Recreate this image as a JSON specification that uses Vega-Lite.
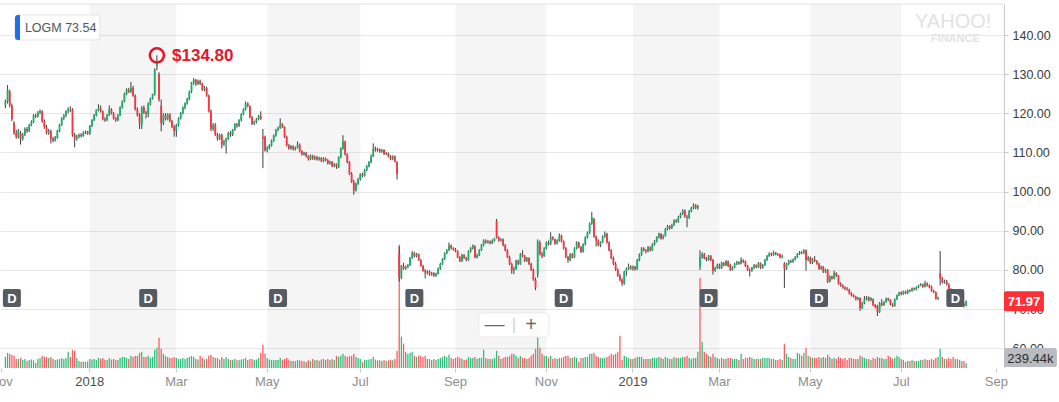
{
"$schema":"https://vega.github.io/schema/vega-lite/v6.json",
"width":1004,"height":364,
"padding":{"left":0,"top":4,"right":55,"bottom":34},
"autosize":{"type":"none"},
"background":"white",
"config":{"view":{"stroke":null},"font":"Liberation Sans"},
"datasets":{
"px":[
{"d":"2017-11-03","o":122,"h":123.5,"l":121.3,"c":123,"v":0.55},
{"d":"2017-11-06","o":123,"h":127.2,"l":122.5,"c":126,"v":0.75},
{"d":"2017-11-07","o":125.5,"h":126,"l":121.5,"c":122,"v":0.7},
{"d":"2017-11-08","o":122,"h":122.5,"l":118,"c":118.5,"v":0.65},
{"d":"2017-11-09","o":117.5,"h":118,"l":114.5,"c":115,"v":0.6},
{"d":"2017-11-10","o":115,"h":115.8,"l":113.5,"c":114,"v":0.45},
{"d":"2017-11-13","o":114,"h":116,"l":113.6,"c":115.5,"v":0.45},
{"d":"2017-11-14","o":115,"h":115.5,"l":112,"c":113.5,"v":0.5},
{"d":"2017-11-15","o":113.5,"h":115,"l":113,"c":114.5,"v":0.4},
{"d":"2017-11-16","o":114.5,"h":116.4,"l":114.2,"c":116,"v":0.45},
{"d":"2017-11-17","o":116,"h":116.5,"l":115,"c":115.5,"v":0.35},
{"d":"2017-11-20","o":115.5,"h":117.3,"l":115.2,"c":117,"v":0.4},
{"d":"2017-11-21","o":117,"h":118.2,"l":116.7,"c":117.8,"v":0.42},
{"d":"2017-11-22","o":117.8,"h":119.8,"l":117.5,"c":119.5,"v":0.38},
{"d":"2017-11-24","o":119.5,"h":119.9,"l":118.8,"c":119.2,"v":0.25},
{"d":"2017-11-27","o":119.2,"h":120.6,"l":118.9,"c":120.2,"v":0.45},
{"d":"2017-11-28","o":120.2,"h":121,"l":119.8,"c":120.6,"v":0.5},
{"d":"2017-11-29","o":120.5,"h":120.8,"l":117.6,"c":118,"v":0.6},
{"d":"2017-11-30","o":118,"h":118.4,"l":116,"c":116.5,"v":0.55},
{"d":"2017-12-01","o":116.5,"h":117,"l":114.6,"c":115,"v":0.55},
{"d":"2017-12-04","o":115,"h":116,"l":114.5,"c":115.5,"v":0.5},
{"d":"2017-12-05","o":115.5,"h":115.8,"l":112.3,"c":113.5,"v":0.55},
{"d":"2017-12-06","o":113.5,"h":114,"l":112.6,"c":113,"v":0.45},
{"d":"2017-12-07","o":113,"h":114.2,"l":112.8,"c":113.8,"v":0.4},
{"d":"2017-12-08","o":113.8,"h":115.8,"l":113.5,"c":115.5,"v":0.42},
{"d":"2017-12-11","o":115.5,"h":117.3,"l":115.2,"c":117,"v":0.45},
{"d":"2017-12-12","o":117,"h":119,"l":116.8,"c":118.7,"v":0.5},
{"d":"2017-12-13","o":118.7,"h":119.8,"l":118.3,"c":119.5,"v":0.45},
{"d":"2017-12-14","o":119.5,"h":120.8,"l":119,"c":120.5,"v":0.5},
{"d":"2017-12-15","o":120.5,"h":121.5,"l":120,"c":121,"v":0.8},
{"d":"2017-12-18","o":121,"h":121.8,"l":120.3,"c":120.8,"v":0.55},
{"d":"2017-12-19","o":121,"h":121.3,"l":114,"c":114.5,"v":0.9},
{"d":"2017-12-20","o":114.5,"h":115,"l":111.3,"c":113.5,"v":0.85},
{"d":"2017-12-21","o":113.5,"h":114.5,"l":113,"c":114,"v":0.5},
{"d":"2017-12-22","o":114,"h":114.8,"l":113.6,"c":114.5,"v":0.35},
{"d":"2017-12-26","o":114.5,"h":114.9,"l":113.8,"c":114.2,"v":0.3},
{"d":"2017-12-27","o":114.2,"h":115.4,"l":114,"c":115,"v":0.32},
{"d":"2017-12-28","o":115,"h":115.6,"l":114.7,"c":115.3,"v":0.3},
{"d":"2017-12-29","o":115.3,"h":115.5,"l":114.5,"c":114.8,"v":0.33},
{"d":"2018-01-02","o":114.8,"h":117,"l":114.5,"c":116.8,"v":0.45},
{"d":"2018-01-03","o":116.8,"h":118.5,"l":116.5,"c":118.3,"v":0.42},
{"d":"2018-01-04","o":118.3,"h":119.8,"l":118,"c":119.5,"v":0.45},
{"d":"2018-01-05","o":119.5,"h":121,"l":119.2,"c":120.8,"v":0.4},
{"d":"2018-01-08","o":120.8,"h":122.3,"l":120.5,"c":121.3,"v":0.5},
{"d":"2018-01-09","o":121.3,"h":122,"l":120.2,"c":120.5,"v":0.45},
{"d":"2018-01-10","o":120.5,"h":120.7,"l":118.2,"c":118.5,"v":0.5},
{"d":"2018-01-11","o":118.5,"h":119,"l":117.8,"c":118.2,"v":0.4},
{"d":"2018-01-12","o":118.2,"h":119.8,"l":118,"c":119.5,"v":0.38},
{"d":"2018-01-16","o":119.5,"h":122,"l":119.3,"c":121,"v":0.5},
{"d":"2018-01-17","o":121,"h":121.3,"l":119.7,"c":120,"v":0.42},
{"d":"2018-01-18","o":120,"h":120.3,"l":118.4,"c":118.7,"v":0.45},
{"d":"2018-01-19","o":118.7,"h":119,"l":117.8,"c":118.2,"v":0.38},
{"d":"2018-01-22","o":118.2,"h":119.8,"l":118,"c":119.5,"v":0.4},
{"d":"2018-01-23","o":119.5,"h":121.8,"l":119.3,"c":121.5,"v":0.5},
{"d":"2018-01-24","o":121.5,"h":123.3,"l":121.2,"c":123,"v":0.55},
{"d":"2018-01-25","o":123,"h":125.3,"l":122.8,"c":125,"v":0.55},
{"d":"2018-01-26","o":125,"h":126.4,"l":124.6,"c":126,"v":0.5},
{"d":"2018-01-29","o":126,"h":126.5,"l":125.2,"c":125.5,"v":0.45},
{"d":"2018-01-30","o":125.5,"h":128,"l":125.2,"c":126.5,"v":0.6},
{"d":"2018-01-31","o":126.5,"h":127,"l":124.2,"c":124.5,"v":0.55},
{"d":"2018-02-01","o":124.5,"h":124.8,"l":120.7,"c":121,"v":0.6},
{"d":"2018-02-02","o":121,"h":121.5,"l":119.2,"c":119.5,"v":0.6},
{"d":"2018-02-05","o":119.5,"h":120,"l":116,"c":117.5,"v":0.75},
{"d":"2018-02-06","o":117,"h":121.8,"l":116,"c":121.5,"v":0.8},
{"d":"2018-02-07","o":121.5,"h":122,"l":119.8,"c":120.2,"v":0.55},
{"d":"2018-02-08","o":120.2,"h":120.6,"l":118.7,"c":119.8,"v":0.55},
{"d":"2018-02-09","o":119.8,"h":122.8,"l":119,"c":122.5,"v":0.6},
{"d":"2018-02-12","o":122.5,"h":124,"l":122,"c":123.8,"v":0.5},
{"d":"2018-02-13","o":123.8,"h":125,"l":123.5,"c":124.8,"v":0.55},
{"d":"2018-02-14","o":124.8,"h":131.5,"l":124.5,"c":131,"v":0.9},
{"d":"2018-02-15","o":132,"h":134.8,"l":131,"c":133.2,"v":1.0},
{"d":"2018-02-16","o":130,"h":130.5,"l":123,"c":123.5,"v":1.5},
{"d":"2018-02-20","o":122,"h":123.5,"l":115.4,"c":117.5,"v":0.95},
{"d":"2018-02-21","o":117.5,"h":120,"l":117,"c":119.5,"v":0.7},
{"d":"2018-02-22","o":119.5,"h":120,"l":118.2,"c":118.5,"v":0.6},
{"d":"2018-02-23","o":118.5,"h":120,"l":118.2,"c":119.7,"v":0.55},
{"d":"2018-02-26","o":119.7,"h":120,"l":117.7,"c":118,"v":0.5},
{"d":"2018-02-27","o":118,"h":118.3,"l":116.2,"c":116.5,"v":0.5},
{"d":"2018-02-28","o":116.5,"h":117,"l":114,"c":115.5,"v":0.55},
{"d":"2018-03-01","o":115.5,"h":117.3,"l":114,"c":117,"v":0.5},
{"d":"2018-03-02","o":117,"h":119,"l":116.6,"c":118.7,"v":0.45},
{"d":"2018-03-05","o":118.7,"h":120.3,"l":118.4,"c":120,"v":0.45},
{"d":"2018-03-06","o":120,"h":121.8,"l":119.7,"c":121.5,"v":0.5},
{"d":"2018-03-07","o":121.5,"h":122.8,"l":121,"c":122.5,"v":0.45},
{"d":"2018-03-08","o":122.5,"h":124,"l":122.2,"c":123.6,"v":0.5},
{"d":"2018-03-09","o":123.6,"h":125.8,"l":123.3,"c":125.5,"v":0.55},
{"d":"2018-03-12","o":125.5,"h":128,"l":125.2,"c":127.8,"v":0.6},
{"d":"2018-03-13","o":127.8,"h":129,"l":127.3,"c":128.5,"v":0.55},
{"d":"2018-03-14","o":128.5,"h":128.8,"l":127,"c":127.5,"v":0.45},
{"d":"2018-03-15","o":127.5,"h":128.6,"l":127.2,"c":128.3,"v":0.42},
{"d":"2018-03-16","o":128.3,"h":128.6,"l":127.2,"c":127.5,"v":0.6},
{"d":"2018-03-19","o":127.5,"h":127.8,"l":125.7,"c":126,"v":0.5},
{"d":"2018-03-20","o":126,"h":127,"l":125.6,"c":126.5,"v":0.42},
{"d":"2018-03-21","o":126.5,"h":126.8,"l":124.2,"c":124.5,"v":0.45},
{"d":"2018-03-22","o":124.5,"h":124.8,"l":120.2,"c":120.5,"v":0.6},
{"d":"2018-03-23","o":120.5,"h":121,"l":115.4,"c":116,"v":0.65},
{"d":"2018-03-26","o":116,"h":117.5,"l":115.5,"c":117,"v":0.55},
{"d":"2018-03-27","o":117,"h":117.5,"l":114.2,"c":114.5,"v":0.5},
{"d":"2018-03-28","o":114.5,"h":115,"l":113,"c":113.5,"v":0.5},
{"d":"2018-03-29","o":113.5,"h":114.8,"l":113.2,"c":114.5,"v":0.42},
{"d":"2018-04-02","o":114.5,"h":114.8,"l":111,"c":112,"v":0.55},
{"d":"2018-04-03","o":112,"h":113.2,"l":111.6,"c":112.8,"v":0.45},
{"d":"2018-04-04","o":112.8,"h":113.8,"l":109.7,"c":113.5,"v":0.55},
{"d":"2018-04-05","o":113.5,"h":115.3,"l":113.2,"c":115,"v":0.45},
{"d":"2018-04-06","o":115,"h":115.5,"l":114,"c":114.5,"v":0.4},
{"d":"2018-04-09","o":114.5,"h":116,"l":114.2,"c":115.8,"v":0.4},
{"d":"2018-04-10","o":115.8,"h":117.5,"l":115.5,"c":117.2,"v":0.45},
{"d":"2018-04-11","o":117.2,"h":117.5,"l":116.3,"c":116.8,"v":0.38},
{"d":"2018-04-12","o":116.8,"h":118.5,"l":116.5,"c":118.2,"v":0.4},
{"d":"2018-04-13","o":118.2,"h":120,"l":117.9,"c":119.8,"v":0.42},
{"d":"2018-04-16","o":119.8,"h":121.3,"l":119.5,"c":121,"v":0.45},
{"d":"2018-04-17","o":121,"h":123,"l":120.7,"c":122.5,"v":0.5},
{"d":"2018-04-18","o":122.5,"h":122.8,"l":121.5,"c":121.8,"v":0.4},
{"d":"2018-04-19","o":121.8,"h":122,"l":118.7,"c":119,"v":0.45},
{"d":"2018-04-20","o":119,"h":119.3,"l":117,"c":117.3,"v":0.45},
{"d":"2018-04-23","o":117.3,"h":118.1,"l":117,"c":117.8,"v":0.4},
{"d":"2018-04-24","o":117.8,"h":118.8,"l":117.4,"c":118.5,"v":0.42},
{"d":"2018-04-25","o":118.5,"h":119.6,"l":118.2,"c":119.3,"v":0.5},
{"d":"2018-04-26","o":119.3,"h":120.5,"l":118.3,"c":118.6,"v":0.75},
{"d":"2018-04-27","o":114,"h":116,"l":106,"c":113.5,"v":1.15},
{"d":"2018-04-30","o":114,"h":114.3,"l":110.2,"c":110.5,"v":0.7},
{"d":"2018-05-01","o":110.5,"h":111.6,"l":110,"c":111.2,"v":0.5},
{"d":"2018-05-02","o":111.2,"h":112.1,"l":110.8,"c":111.8,"v":0.42},
{"d":"2018-05-03","o":111.8,"h":113.3,"l":111.5,"c":113,"v":0.4},
{"d":"2018-05-04","o":113,"h":114.6,"l":112.7,"c":114.3,"v":0.38},
{"d":"2018-05-07","o":114.3,"h":116,"l":114,"c":115.8,"v":0.4},
{"d":"2018-05-08","o":115.8,"h":116.6,"l":115.4,"c":116.3,"v":0.4},
{"d":"2018-05-09","o":116.3,"h":118.7,"l":116,"c":117.2,"v":0.5},
{"d":"2018-05-10","o":117.2,"h":117.5,"l":116.2,"c":116.5,"v":0.4},
{"d":"2018-05-11","o":116.5,"h":116.7,"l":113.7,"c":114,"v":0.45},
{"d":"2018-05-14","o":114,"h":114.3,"l":111.5,"c":111.8,"v":0.5},
{"d":"2018-05-15","o":111.8,"h":112.2,"l":110.7,"c":111,"v":0.42},
{"d":"2018-05-16","o":111,"h":111.9,"l":110.7,"c":111.6,"v":0.35},
{"d":"2018-05-17","o":111.6,"h":111.8,"l":110.5,"c":110.8,"v":0.35},
{"d":"2018-05-18","o":110.8,"h":111.5,"l":110.5,"c":111.2,"v":0.33},
{"d":"2018-05-21","o":111.2,"h":112.8,"l":111,"c":112,"v":0.4},
{"d":"2018-05-22","o":112,"h":112.3,"l":110,"c":110.3,"v":0.38},
{"d":"2018-05-23","o":110.3,"h":110.6,"l":109.2,"c":109.5,"v":0.35},
{"d":"2018-05-24","o":109.5,"h":110.2,"l":109.2,"c":109.9,"v":0.33},
{"d":"2018-05-25","o":109.9,"h":110.1,"l":108.7,"c":109,"v":0.3},
{"d":"2018-05-29","o":109,"h":109.3,"l":107.9,"c":108.3,"v":0.38},
{"d":"2018-05-30","o":108.3,"h":109.5,"l":108,"c":109.2,"v":0.35},
{"d":"2018-05-31","o":109.2,"h":109.4,"l":108.1,"c":108.4,"v":0.45},
{"d":"2018-06-01","o":108.4,"h":109.2,"l":108,"c":108.8,"v":0.38},
{"d":"2018-06-04","o":108.8,"h":109.1,"l":107.9,"c":108.2,"v":0.4},
{"d":"2018-06-05","o":108.2,"h":108.9,"l":107.9,"c":108.6,"v":0.36},
{"d":"2018-06-06","o":108.6,"h":108.8,"l":107.5,"c":107.8,"v":0.42},
{"d":"2018-06-07","o":107.8,"h":108.8,"l":107.5,"c":108.5,"v":0.45},
{"d":"2018-06-08","o":108.5,"h":108.7,"l":107.7,"c":108,"v":0.4},
{"d":"2018-06-11","o":108,"h":108.3,"l":106.9,"c":107.2,"v":0.45},
{"d":"2018-06-12","o":107.2,"h":107.9,"l":106.9,"c":107.6,"v":0.4},
{"d":"2018-06-13","o":107.6,"h":107.8,"l":106.2,"c":106.5,"v":0.45},
{"d":"2018-06-14","o":106.5,"h":107.3,"l":106.2,"c":107,"v":0.4},
{"d":"2018-06-15","o":107,"h":107.2,"l":105.8,"c":106.3,"v":0.6},
{"d":"2018-06-18","o":106.3,"h":109,"l":106,"c":108.8,"v":0.55},
{"d":"2018-06-19","o":108.8,"h":111.3,"l":108.5,"c":111,"v":0.6},
{"d":"2018-06-20","o":111,"h":114.4,"l":110.7,"c":112.8,"v":0.7},
{"d":"2018-06-21","o":112.8,"h":113,"l":109.2,"c":109.5,"v":0.6},
{"d":"2018-06-22","o":109.5,"h":109.8,"l":107.2,"c":107.5,"v":0.55},
{"d":"2018-06-25","o":107.5,"h":107.8,"l":104.2,"c":104.5,"v":0.6},
{"d":"2018-06-26","o":104.5,"h":105,"l":102.2,"c":102.5,"v":0.6},
{"d":"2018-06-27","o":102.5,"h":103,"l":99.2,"c":100.3,"v":0.7},
{"d":"2018-06-28","o":100.3,"h":102.3,"l":100,"c":102,"v":0.55},
{"d":"2018-06-29","o":102,"h":103.5,"l":101.7,"c":103.2,"v":0.5},
{"d":"2018-07-02","o":103.2,"h":104.7,"l":102.8,"c":104.4,"v":0.45},
{"d":"2018-07-03","o":104.4,"h":104.8,"l":103.6,"c":104,"v":0.3},
{"d":"2018-07-05","o":104,"h":105.8,"l":103.8,"c":105.5,"v":0.4},
{"d":"2018-07-06","o":105.5,"h":106.8,"l":105.2,"c":106.5,"v":0.4},
{"d":"2018-07-09","o":106.5,"h":107.8,"l":106.2,"c":107.5,"v":0.42},
{"d":"2018-07-10","o":107.5,"h":109.5,"l":107.2,"c":109,"v":0.45},
{"d":"2018-07-11","o":109,"h":112.3,"l":108.8,"c":111,"v":0.55},
{"d":"2018-07-12","o":111,"h":111.5,"l":110.2,"c":110.5,"v":0.42},
{"d":"2018-07-13","o":110.5,"h":111.2,"l":110.2,"c":110.8,"v":0.38},
{"d":"2018-07-16","o":110.8,"h":111,"l":109.9,"c":110.2,"v":0.38},
{"d":"2018-07-17","o":110.2,"h":110.9,"l":109.9,"c":110.6,"v":0.35},
{"d":"2018-07-18","o":110.6,"h":110.8,"l":109.3,"c":109.6,"v":0.4},
{"d":"2018-07-19","o":109.6,"h":110.1,"l":109.3,"c":109.8,"v":0.35},
{"d":"2018-07-20","o":109.8,"h":110,"l":108.7,"c":109,"v":0.38},
{"d":"2018-07-23","o":109,"h":109.3,"l":108,"c":108.3,"v":0.4},
{"d":"2018-07-24","o":108.3,"h":109.3,"l":108,"c":109,"v":0.38},
{"d":"2018-07-25","o":109,"h":109.2,"l":107.4,"c":107.7,"v":0.45},
{"d":"2018-07-26","o":107.5,"h":107.8,"l":103.1,"c":104.5,"v":0.85},
{"d":"2018-07-27","o":84,"h":86,"l":77,"c":78,"v":6.1},
{"d":"2018-07-30","o":78,"h":81.3,"l":77.6,"c":81,"v":1.55},
{"d":"2018-07-31","o":81,"h":81.8,"l":80,"c":80.3,"v":1.2},
{"d":"2018-08-01","o":80.3,"h":81.1,"l":80,"c":80.8,"v":0.8},
{"d":"2018-08-02","o":80.8,"h":81.5,"l":80.4,"c":81.2,"v":0.7},
{"d":"2018-08-03","o":81.2,"h":83.3,"l":81,"c":83,"v":0.75},
{"d":"2018-08-06","o":83,"h":84.8,"l":82.8,"c":84.3,"v":0.8},
{"d":"2018-08-07","o":84.3,"h":84.6,"l":83.2,"c":83.5,"v":0.6},
{"d":"2018-08-08","o":83.5,"h":84.3,"l":83.2,"c":84,"v":0.55},
{"d":"2018-08-09","o":84,"h":84.2,"l":82.3,"c":82.5,"v":0.6},
{"d":"2018-08-10","o":82.5,"h":82.8,"l":80.8,"c":81,"v":0.6},
{"d":"2018-08-13","o":81,"h":81.3,"l":79.5,"c":79.8,"v":0.55},
{"d":"2018-08-14","o":79.8,"h":80.2,"l":77.8,"c":79.3,"v":0.6},
{"d":"2018-08-15","o":79.3,"h":79.9,"l":78.8,"c":79.6,"v":0.45},
{"d":"2018-08-16","o":79.6,"h":79.9,"l":78.5,"c":78.8,"v":0.45},
{"d":"2018-08-17","o":78.8,"h":79.5,"l":78.5,"c":79.2,"v":0.4},
{"d":"2018-08-20","o":79.2,"h":79.4,"l":78.2,"c":78.5,"v":0.45},
{"d":"2018-08-21","o":78.5,"h":79.3,"l":78.2,"c":79,"v":0.4},
{"d":"2018-08-22","o":79,"h":80.6,"l":78.8,"c":80.3,"v":0.45},
{"d":"2018-08-23","o":80.3,"h":81.8,"l":80,"c":81.5,"v":0.5},
{"d":"2018-08-24","o":81.5,"h":83,"l":81.3,"c":82.8,"v":0.55},
{"d":"2018-08-27","o":82.8,"h":84.5,"l":82.5,"c":84.2,"v":0.6},
{"d":"2018-08-28","o":84.2,"h":85.3,"l":84,"c":85,"v":0.55},
{"d":"2018-08-29","o":85,"h":87,"l":84.8,"c":86.2,"v":0.65},
{"d":"2018-08-30","o":86.2,"h":86.5,"l":85.2,"c":85.5,"v":0.5},
{"d":"2018-08-31","o":85.5,"h":85.8,"l":84.9,"c":85.2,"v":0.45},
{"d":"2018-09-04","o":85.2,"h":85.6,"l":84.5,"c":84.8,"v":0.5},
{"d":"2018-09-05","o":84.8,"h":85,"l":83,"c":83.2,"v":0.55},
{"d":"2018-09-06","o":83.2,"h":83.5,"l":82,"c":82.3,"v":0.5},
{"d":"2018-09-07","o":82.3,"h":84.1,"l":82,"c":83.8,"v":0.45},
{"d":"2018-09-10","o":83.8,"h":84,"l":82.8,"c":83,"v":0.4},
{"d":"2018-09-11","o":83,"h":83.3,"l":82.2,"c":82.5,"v":0.42},
{"d":"2018-09-12","o":82.5,"h":85,"l":82.3,"c":84.7,"v":0.55},
{"d":"2018-09-13","o":84.7,"h":85.8,"l":84.4,"c":85.5,"v":0.5},
{"d":"2018-09-14","o":85.5,"h":86.5,"l":85.2,"c":86.2,"v":0.5},
{"d":"2018-09-17","o":86,"h":86.3,"l":83,"c":83.2,"v":0.55},
{"d":"2018-09-18","o":83.2,"h":84.1,"l":82.9,"c":83.8,"v":0.45},
{"d":"2018-09-19","o":83.8,"h":85.3,"l":83.5,"c":85,"v":0.5},
{"d":"2018-09-20","o":85,"h":86.6,"l":84.8,"c":86.3,"v":0.5},
{"d":"2018-09-21","o":86.3,"h":87.8,"l":86,"c":87.5,"v":0.9},
{"d":"2018-09-24","o":87.5,"h":87.8,"l":86.7,"c":87,"v":0.5},
{"d":"2018-09-25","o":87,"h":87.6,"l":86.7,"c":87.3,"v":0.45},
{"d":"2018-09-26","o":87.3,"h":87.5,"l":86.5,"c":86.8,"v":0.45},
{"d":"2018-09-27","o":86.8,"h":87.8,"l":86.6,"c":87.5,"v":0.45},
{"d":"2018-09-28","o":87.5,"h":88.2,"l":87.2,"c":88,"v":0.5},
{"d":"2018-10-01","o":92.5,"h":93,"l":88,"c":88.3,"v":0.85},
{"d":"2018-10-02","o":88.3,"h":88.6,"l":87.2,"c":87.5,"v":0.6},
{"d":"2018-10-03","o":87.5,"h":88.1,"l":87.2,"c":87.8,"v":0.45},
{"d":"2018-10-04","o":87.8,"h":88,"l":86,"c":86.3,"v":0.5},
{"d":"2018-10-05","o":86.3,"h":86.6,"l":84.7,"c":85,"v":0.55},
{"d":"2018-10-08","o":85,"h":85.3,"l":83,"c":83.3,"v":0.55},
{"d":"2018-10-09","o":83.3,"h":83.6,"l":81.2,"c":81.5,"v":0.6},
{"d":"2018-10-10","o":81.5,"h":81.8,"l":79,"c":79.8,"v":0.7},
{"d":"2018-10-11","o":79.8,"h":80.8,"l":78.9,"c":80.3,"v":0.7},
{"d":"2018-10-12","o":80.3,"h":82.6,"l":80,"c":82.3,"v":0.6},
{"d":"2018-10-15","o":82.3,"h":82.6,"l":81.2,"c":81.5,"v":0.5},
{"d":"2018-10-16","o":81.5,"h":84.3,"l":81.3,"c":84,"v":0.6},
{"d":"2018-10-17","o":84,"h":85,"l":83.2,"c":83.5,"v":0.5},
{"d":"2018-10-18","o":83.5,"h":83.8,"l":82,"c":82.3,"v":0.5},
{"d":"2018-10-19","o":82.3,"h":83.3,"l":82,"c":83,"v":0.45},
{"d":"2018-10-22","o":83,"h":83.2,"l":81.2,"c":81.5,"v":0.5},
{"d":"2018-10-23","o":81.5,"h":81.8,"l":79.7,"c":80,"v":0.6},
{"d":"2018-10-24","o":80,"h":80.3,"l":77.2,"c":77.5,"v":0.7},
{"d":"2018-10-25","o":77.5,"h":78,"l":74.8,"c":75.5,"v":0.95},
{"d":"2018-10-26","o":78.8,"h":87.8,"l":78,"c":87.3,"v":1.7},
{"d":"2018-10-29","o":87,"h":87.5,"l":83.7,"c":84,"v":1.0},
{"d":"2018-10-30","o":84,"h":84.6,"l":83,"c":83.5,"v":0.7},
{"d":"2018-10-31","o":83.5,"h":85.8,"l":83.3,"c":85.5,"v":0.6},
{"d":"2018-11-01","o":85.5,"h":87.3,"l":85.2,"c":87,"v":0.6},
{"d":"2018-11-02","o":87,"h":87.5,"l":86.2,"c":86.5,"v":0.5},
{"d":"2018-11-05","o":86.5,"h":89.6,"l":86.3,"c":88.3,"v":0.6},
{"d":"2018-11-06","o":88.3,"h":88.6,"l":87.5,"c":87.8,"v":0.45},
{"d":"2018-11-07","o":87.8,"h":88,"l":86.4,"c":86.7,"v":0.5},
{"d":"2018-11-08","o":86.7,"h":87.8,"l":86.5,"c":87.5,"v":0.45},
{"d":"2018-11-09","o":87.5,"h":89.3,"l":87.2,"c":88.8,"v":0.5},
{"d":"2018-11-12","o":88.8,"h":89,"l":87,"c":87.3,"v":0.5},
{"d":"2018-11-13","o":87.3,"h":87.5,"l":85.2,"c":85.5,"v":0.55},
{"d":"2018-11-14","o":85.5,"h":85.8,"l":83,"c":83.3,"v":0.6},
{"d":"2018-11-15","o":83.3,"h":83.6,"l":81.8,"c":82.5,"v":0.6},
{"d":"2018-11-16","o":82.5,"h":84.3,"l":82.2,"c":84,"v":0.5},
{"d":"2018-11-19","o":84,"h":84.3,"l":82.9,"c":83.2,"v":0.5},
{"d":"2018-11-20","o":83.2,"h":85.8,"l":83,"c":85.5,"v":0.55},
{"d":"2018-11-21","o":85.5,"h":87.3,"l":85.2,"c":87,"v":0.5},
{"d":"2018-11-23","o":87,"h":87.2,"l":85.5,"c":85.8,"v":0.3},
{"d":"2018-11-26","o":85.8,"h":86.1,"l":84.3,"c":84.6,"v":0.5},
{"d":"2018-11-27","o":84.6,"h":86.8,"l":84.4,"c":86.5,"v":0.5},
{"d":"2018-11-28","o":86.5,"h":88.6,"l":86.2,"c":88.3,"v":0.55},
{"d":"2018-11-29","o":88.3,"h":89.8,"l":88,"c":89.5,"v":0.55},
{"d":"2018-11-30","o":89.5,"h":92.1,"l":89.2,"c":91.8,"v":0.7},
{"d":"2018-12-03","o":91.8,"h":94.8,"l":91.5,"c":93.5,"v":0.7},
{"d":"2018-12-04","o":93,"h":93.3,"l":88.2,"c":88.5,"v":0.75},
{"d":"2018-12-06","o":88.5,"h":88.8,"l":86,"c":87.5,"v":0.6},
{"d":"2018-12-07","o":87.5,"h":87.8,"l":86,"c":86.3,"v":0.55},
{"d":"2018-12-10","o":86.3,"h":87.3,"l":85.8,"c":87,"v":0.5},
{"d":"2018-12-11","o":87,"h":88.8,"l":86.8,"c":88.5,"v":0.5},
{"d":"2018-12-12","o":88.5,"h":89.8,"l":88.2,"c":89.2,"v":0.5},
{"d":"2018-12-13","o":89.2,"h":89.5,"l":86.7,"c":87,"v":0.55},
{"d":"2018-12-14","o":87,"h":87.3,"l":84.7,"c":85,"v":0.6},
{"d":"2018-12-17","o":85,"h":85.3,"l":82.7,"c":83,"v":0.7},
{"d":"2018-12-18","o":83,"h":83.4,"l":81.2,"c":81.5,"v":0.65},
{"d":"2018-12-19","o":81.5,"h":82,"l":79.7,"c":80,"v":0.7},
{"d":"2018-12-20","o":80,"h":80.4,"l":78.2,"c":78.5,"v":0.8},
{"d":"2018-12-21","o":78.5,"h":79,"l":77,"c":77.5,"v":1.6},
{"d":"2018-12-24","o":77.5,"h":77.8,"l":75.9,"c":76.5,"v":0.4},
{"d":"2018-12-26","o":76.5,"h":79.8,"l":76.2,"c":79.5,"v":0.6},
{"d":"2018-12-27","o":79.5,"h":80.6,"l":78.5,"c":80.3,"v":0.55},
{"d":"2018-12-28","o":80.3,"h":81.6,"l":80,"c":80.8,"v":0.5},
{"d":"2018-12-31","o":80.8,"h":81.2,"l":80,"c":80.3,"v":0.45},
{"d":"2019-01-02","o":80.3,"h":81.1,"l":79.8,"c":80.8,"v":0.45},
{"d":"2019-01-03","o":80.8,"h":81,"l":79.8,"c":80.2,"v":0.5},
{"d":"2019-01-04","o":80.2,"h":82.8,"l":80,"c":82.5,"v":0.55},
{"d":"2019-01-07","o":82.5,"h":84.2,"l":82.2,"c":83.9,"v":0.55},
{"d":"2019-01-08","o":83.9,"h":85.8,"l":83.6,"c":85.5,"v":0.55},
{"d":"2019-01-09","o":85.5,"h":85.8,"l":84.7,"c":85,"v":0.45},
{"d":"2019-01-10","o":85,"h":85.3,"l":84.2,"c":84.7,"v":0.45},
{"d":"2019-01-11","o":84.7,"h":86.1,"l":84.5,"c":85.8,"v":0.45},
{"d":"2019-01-14","o":85.8,"h":86,"l":84.7,"c":85,"v":0.45},
{"d":"2019-01-15","o":85,"h":86.8,"l":84.8,"c":86.5,"v":0.5},
{"d":"2019-01-16","o":86.5,"h":87.6,"l":86.2,"c":87.3,"v":0.5},
{"d":"2019-01-17","o":87.3,"h":88.6,"l":87,"c":88.3,"v":0.5},
{"d":"2019-01-18","o":88.3,"h":89.5,"l":88,"c":89.2,"v":0.55},
{"d":"2019-01-22","o":89.2,"h":89.4,"l":87.7,"c":88,"v":0.5},
{"d":"2019-01-23","o":88,"h":89,"l":87.8,"c":88.7,"v":0.45},
{"d":"2019-01-24","o":88.7,"h":90.7,"l":88.5,"c":90.4,"v":0.55},
{"d":"2019-01-25","o":90.4,"h":91.5,"l":90.1,"c":91.2,"v":0.5},
{"d":"2019-01-28","o":91.2,"h":91.4,"l":90.3,"c":90.6,"v":0.45},
{"d":"2019-01-29","o":90.6,"h":91.8,"l":90.4,"c":91.5,"v":0.45},
{"d":"2019-01-30","o":91.5,"h":92.9,"l":91.2,"c":92.6,"v":0.55},
{"d":"2019-01-31","o":92.6,"h":93,"l":92,"c":92.3,"v":0.5},
{"d":"2019-02-01","o":92.3,"h":93.8,"l":92,"c":93.5,"v":0.5},
{"d":"2019-02-04","o":93.5,"h":94.6,"l":93.2,"c":94.3,"v":0.5},
{"d":"2019-02-05","o":94.3,"h":95.5,"l":94,"c":95.2,"v":0.55},
{"d":"2019-02-06","o":95.2,"h":95.4,"l":93.3,"c":93.6,"v":0.55},
{"d":"2019-02-07","o":93.6,"h":94,"l":90.9,"c":93.3,"v":0.6},
{"d":"2019-02-08","o":93.3,"h":95.3,"l":93,"c":95,"v":0.5},
{"d":"2019-02-11","o":95,"h":96.1,"l":94.7,"c":95.8,"v":0.45},
{"d":"2019-02-12","o":95.8,"h":97,"l":95.5,"c":96.5,"v":0.5},
{"d":"2019-02-13","o":96.5,"h":96.8,"l":95.5,"c":95.8,"v":0.5},
{"d":"2019-02-14","o":95.8,"h":96.6,"l":95.4,"c":96.2,"v":0.8},
{"d":"2019-02-15","o":80.8,"h":85,"l":80,"c":83.3,"v":4.45},
{"d":"2019-02-19","o":83.3,"h":84.5,"l":82.8,"c":84,"v":1.3},
{"d":"2019-02-20","o":84,"h":84.3,"l":82.7,"c":83,"v":0.8},
{"d":"2019-02-21","o":83,"h":83.3,"l":82.2,"c":82.5,"v":0.7},
{"d":"2019-02-22","o":82.5,"h":83.8,"l":82.3,"c":83.5,"v":0.6},
{"d":"2019-02-25","o":83.5,"h":83.8,"l":82.2,"c":82.5,"v":0.55},
{"d":"2019-02-26","o":82.5,"h":82.8,"l":78.8,"c":79.8,"v":0.7},
{"d":"2019-02-27","o":79.8,"h":80.8,"l":79.5,"c":80.5,"v":0.55},
{"d":"2019-02-28","o":80.5,"h":81.6,"l":80.2,"c":81.3,"v":0.5},
{"d":"2019-03-01","o":81.3,"h":81.6,"l":80.2,"c":80.5,"v":0.45},
{"d":"2019-03-04","o":80.5,"h":82.1,"l":80.2,"c":81.8,"v":0.5},
{"d":"2019-03-05","o":81.8,"h":82,"l":80.9,"c":81.2,"v":0.45},
{"d":"2019-03-06","o":81.2,"h":82.5,"l":81,"c":82.2,"v":0.45},
{"d":"2019-03-07","o":82.2,"h":82.4,"l":80.7,"c":81,"v":0.5},
{"d":"2019-03-08","o":81.3,"h":81.5,"l":79.7,"c":80,"v":0.5},
{"d":"2019-03-11","o":80,"h":80.9,"l":79.8,"c":80.6,"v":0.45},
{"d":"2019-03-12","o":80.6,"h":81.8,"l":80.4,"c":81.5,"v":0.45},
{"d":"2019-03-13","o":81.5,"h":82.3,"l":81.2,"c":82,"v":0.45},
{"d":"2019-03-14","o":82,"h":82.2,"l":81.3,"c":81.6,"v":0.4},
{"d":"2019-03-15","o":81.6,"h":83.2,"l":81.4,"c":82.5,"v":0.7},
{"d":"2019-03-18","o":82.5,"h":82.7,"l":81.7,"c":82,"v":0.45},
{"d":"2019-03-19","o":82.2,"h":82.4,"l":80.7,"c":81,"v":0.5},
{"d":"2019-03-20","o":81,"h":81.3,"l":79.7,"c":80,"v":0.5},
{"d":"2019-03-21","o":80,"h":80.4,"l":78.3,"c":79.8,"v":0.55},
{"d":"2019-03-22","o":79.8,"h":80.8,"l":79.5,"c":80.5,"v":0.5},
{"d":"2019-03-25","o":80.5,"h":81.5,"l":80.2,"c":81.2,"v":0.45},
{"d":"2019-03-26","o":81.2,"h":81.4,"l":80.4,"c":80.7,"v":0.45},
{"d":"2019-03-27","o":80.7,"h":82,"l":80.5,"c":81.7,"v":0.45},
{"d":"2019-03-28","o":81.7,"h":81.9,"l":80.2,"c":80.5,"v":0.45},
{"d":"2019-03-29","o":80.5,"h":81.5,"l":80.3,"c":81.2,"v":0.5},
{"d":"2019-04-01","o":81.2,"h":82.8,"l":81,"c":82.5,"v":0.5},
{"d":"2019-04-02","o":82.5,"h":83.8,"l":82.3,"c":83.5,"v":0.5},
{"d":"2019-04-03","o":83.5,"h":84.5,"l":83.3,"c":84.2,"v":0.5},
{"d":"2019-04-04","o":84.2,"h":84.4,"l":83.5,"c":83.8,"v":0.45},
{"d":"2019-04-05","o":83.8,"h":84.9,"l":83.6,"c":84.4,"v":0.45},
{"d":"2019-04-08","o":84.4,"h":84.6,"l":83.7,"c":84,"v":0.4},
{"d":"2019-04-09","o":84,"h":84.3,"l":83.5,"c":83.8,"v":0.4},
{"d":"2019-04-10","o":84,"h":84.2,"l":82.9,"c":83.2,"v":0.45},
{"d":"2019-04-11","o":83.2,"h":83.9,"l":83,"c":83.6,"v":0.4},
{"d":"2019-04-12","o":81.6,"h":82,"l":75.4,"c":80.3,"v":1.2},
{"d":"2019-04-15","o":80.3,"h":81.8,"l":80,"c":81.5,"v":0.7},
{"d":"2019-04-16","o":81.5,"h":82.6,"l":81.2,"c":82.3,"v":0.55},
{"d":"2019-04-17","o":82.3,"h":82.6,"l":81.7,"c":82,"v":0.5},
{"d":"2019-04-18","o":82,"h":82.9,"l":81.8,"c":82.6,"v":0.45},
{"d":"2019-04-22","o":82.6,"h":83.5,"l":82.4,"c":83.2,"v":0.45},
{"d":"2019-04-23","o":83.2,"h":84.3,"l":83,"c":84,"v":0.75},
{"d":"2019-04-24","o":84,"h":84.8,"l":83.8,"c":84.5,"v":0.7},
{"d":"2019-04-25","o":84.5,"h":84.8,"l":84,"c":84.3,"v":0.6},
{"d":"2019-04-26","o":84.3,"h":85.3,"l":84,"c":85,"v":0.75},
{"d":"2019-04-29","o":85,"h":85.2,"l":79.8,"c":82.5,"v":1.0},
{"d":"2019-04-30","o":82.5,"h":83.5,"l":82.2,"c":83.2,"v":0.6},
{"d":"2019-05-01","o":83.2,"h":83.4,"l":81.5,"c":81.8,"v":0.55},
{"d":"2019-05-02","o":81.8,"h":83,"l":81.5,"c":82.7,"v":0.5},
{"d":"2019-05-03","o":82.7,"h":83.5,"l":82,"c":82.3,"v":0.5},
{"d":"2019-05-06","o":82.3,"h":82.5,"l":81.3,"c":81.6,"v":0.5},
{"d":"2019-05-07","o":81.6,"h":81.8,"l":80,"c":80.3,"v":0.55},
{"d":"2019-05-08","o":80.3,"h":81.1,"l":80,"c":80.8,"v":0.5},
{"d":"2019-05-09","o":80.8,"h":81,"l":79.2,"c":79.5,"v":0.55},
{"d":"2019-05-10","o":79.5,"h":80.3,"l":79.2,"c":80,"v":0.5},
{"d":"2019-05-13","o":80,"h":80.2,"l":76.6,"c":77,"v":0.65},
{"d":"2019-05-14","o":77,"h":78.6,"l":76.8,"c":78.3,"v":0.55},
{"d":"2019-05-15","o":78.3,"h":78.5,"l":77.5,"c":77.8,"v":0.45},
{"d":"2019-05-16","o":77.8,"h":79.8,"l":77.6,"c":79.2,"v":0.5},
{"d":"2019-05-17","o":79.2,"h":79.4,"l":78.2,"c":78.5,"v":0.45},
{"d":"2019-05-20","o":78.5,"h":78.7,"l":76.2,"c":76.5,"v":0.55},
{"d":"2019-05-21","o":76.5,"h":76.8,"l":75.7,"c":76,"v":0.5},
{"d":"2019-05-22","o":76,"h":76.3,"l":75.2,"c":75.5,"v":0.45},
{"d":"2019-05-23","o":75.5,"h":75.8,"l":74.8,"c":75.2,"v":0.5},
{"d":"2019-05-24","o":75.2,"h":75.6,"l":74.7,"c":75,"v":0.4},
{"d":"2019-05-28","o":75,"h":75.2,"l":73.7,"c":74,"v":0.5},
{"d":"2019-05-29","o":74,"h":74.3,"l":73.2,"c":73.5,"v":0.5},
{"d":"2019-05-30","o":73.5,"h":73.8,"l":72.9,"c":73.2,"v":0.45},
{"d":"2019-05-31","o":73.2,"h":73.4,"l":72.2,"c":72.5,"v":0.45},
{"d":"2019-06-03","o":72.5,"h":73.1,"l":72.2,"c":72.8,"v":0.45},
{"d":"2019-06-04","o":72.8,"h":73,"l":69.5,"c":70.2,"v":0.6},
{"d":"2019-06-05","o":70.2,"h":71.8,"l":70,"c":71.5,"v":0.55},
{"d":"2019-06-06","o":71.5,"h":73.3,"l":71.2,"c":72.5,"v":0.5},
{"d":"2019-06-07","o":72.5,"h":73.3,"l":72.2,"c":73,"v":0.45},
{"d":"2019-06-10","o":73,"h":73.2,"l":71.9,"c":72.2,"v":0.45},
{"d":"2019-06-11","o":72.2,"h":73,"l":72,"c":72.8,"v":0.4},
{"d":"2019-06-12","o":72.5,"h":72.7,"l":70.7,"c":71,"v":0.5},
{"d":"2019-06-13","o":71,"h":71.3,"l":70.2,"c":70.5,"v":0.45},
{"d":"2019-06-14","o":70.8,"h":71,"l":68.2,"c":69.2,"v":0.55},
{"d":"2019-06-17","o":69.2,"h":71.8,"l":69,"c":71.5,"v":0.5},
{"d":"2019-06-18","o":71.5,"h":72.5,"l":70.7,"c":71,"v":0.5},
{"d":"2019-06-19","o":71,"h":72,"l":70.8,"c":71.8,"v":0.45},
{"d":"2019-06-20","o":71.8,"h":72.9,"l":71.6,"c":72.7,"v":0.45},
{"d":"2019-06-21","o":72.7,"h":72.9,"l":72,"c":72.3,"v":0.6},
{"d":"2019-06-24","o":72.3,"h":72.5,"l":70.9,"c":71.2,"v":0.55},
{"d":"2019-06-25","o":71.2,"h":71.5,"l":70.5,"c":70.8,"v":0.45},
{"d":"2019-06-26","o":70.8,"h":72.7,"l":70.6,"c":72.5,"v":0.5},
{"d":"2019-06-27","o":72.5,"h":73.7,"l":72.3,"c":73.5,"v":0.6},
{"d":"2019-06-28","o":73.5,"h":74.4,"l":73.3,"c":74.2,"v":0.55},
{"d":"2019-07-01","o":74.2,"h":74.5,"l":73.5,"c":73.8,"v":0.45},
{"d":"2019-07-02","o":73.8,"h":74.7,"l":73.6,"c":74.5,"v":0.4},
{"d":"2019-07-03","o":74.5,"h":74.7,"l":73.8,"c":74,"v":0.3},
{"d":"2019-07-05","o":74,"h":75,"l":73.8,"c":74.8,"v":0.35},
{"d":"2019-07-08","o":74.8,"h":75,"l":74.3,"c":74.6,"v":0.35},
{"d":"2019-07-09","o":74.6,"h":75.5,"l":74.4,"c":75.3,"v":0.4},
{"d":"2019-07-10","o":75.3,"h":75.5,"l":74.7,"c":75,"v":0.35},
{"d":"2019-07-11","o":75,"h":75.8,"l":74.8,"c":75.5,"v":0.35},
{"d":"2019-07-12","o":75.5,"h":76.2,"l":75.3,"c":76,"v":0.35},
{"d":"2019-07-15","o":76,"h":76.6,"l":75.8,"c":76.3,"v":0.4},
{"d":"2019-07-16","o":76.3,"h":76.5,"l":75.4,"c":75.7,"v":0.4},
{"d":"2019-07-17","o":75.7,"h":77.2,"l":75.5,"c":76.6,"v":0.45},
{"d":"2019-07-18","o":76.6,"h":76.8,"l":75.7,"c":76,"v":0.4},
{"d":"2019-07-19","o":76,"h":76.3,"l":75.3,"c":75.6,"v":0.4},
{"d":"2019-07-22","o":75.8,"h":76,"l":74.4,"c":74.6,"v":0.45},
{"d":"2019-07-23","o":74.6,"h":74.9,"l":74,"c":74.3,"v":0.4},
{"d":"2019-07-24","o":74.3,"h":74.5,"l":72.4,"c":72.6,"v":0.5},
{"d":"2019-07-25","o":72.6,"h":73.2,"l":72.3,"c":72.8,"v":0.55},
{"d":"2019-07-26","o":79.2,"h":84.8,"l":76,"c":77.8,"v":0.95},
{"d":"2019-07-29","o":77.8,"h":78.2,"l":76.5,"c":76.8,"v":0.55},
{"d":"2019-07-30","o":76.8,"h":77.5,"l":76.5,"c":77.2,"v":0.45},
{"d":"2019-07-31","o":77.2,"h":77.4,"l":76,"c":76.3,"v":0.45},
{"d":"2019-08-01","o":76.3,"h":76.6,"l":74.7,"c":75,"v":0.5},
{"d":"2019-08-02","o":75,"h":75.3,"l":74.3,"c":74.6,"v":0.45},
{"d":"2019-08-05","o":74.6,"h":74.8,"l":72.3,"c":72.6,"v":0.55},
{"d":"2019-08-06","o":72.6,"h":73.5,"l":72.3,"c":73.2,"v":0.45},
{"d":"2019-08-07","o":73.2,"h":73.4,"l":71.2,"c":71.5,"v":0.45},
{"d":"2019-08-08","o":71.5,"h":73.5,"l":71.3,"c":72.3,"v":0.4},
{"d":"2019-08-09","o":72.3,"h":72.5,"l":70.9,"c":71.2,"v":0.35},
{"d":"2019-08-12","o":71.2,"h":71.5,"l":70.4,"c":70.9,"v":0.35},
{"d":"2019-08-13","o":70.9,"h":72.2,"l":70.7,"c":71.97,"v":0.24}
],
"cal":[{"d":"2017-11-01"},{"d":"2017-11-02"},{"d":"2019-08-14"},{"d":"2019-08-15"},{"d":"2019-08-16"},{"d":"2019-08-19"},{"d":"2019-08-20"},{"d":"2019-08-21"},{"d":"2019-08-22"},{"d":"2019-08-23"},{"d":"2019-08-26"},{"d":"2019-08-27"},{"d":"2019-08-28"},{"d":"2019-08-29"},{"d":"2019-08-30"},{"d":"2019-09-03"},{"d":"2019-09-04"},{"d":"2019-09-05"},{"d":"2019-09-06"}],
"bands":[{"d":"2018-01-02","e":"2018-03-01"},{"d":"2018-05-01","e":"2018-07-02"},{"d":"2018-09-04","e":"2018-11-01"},{"d":"2019-01-02","e":"2019-03-01"},{"d":"2019-05-01","e":"2019-07-01"}],
"divs":[{"d":"2017-11-08"},{"d":"2018-02-09"},{"d":"2018-05-08"},{"d":"2018-08-07"},{"d":"2018-11-13"},{"d":"2019-02-22"},{"d":"2019-05-07"},{"d":"2019-08-06"}]
},
"layer":[
{"data":{"name":"cal"},"mark":{"type":"rule","opacity":0},
 "encoding":{"x":{"field":"d","type":"ordinal","scale":{"type":"band","paddingInner":0,"paddingOuter":0},
   "axis":{"title":null,"orient":"bottom","values":["2017-11-01","2018-01-02","2018-03-01","2018-05-01","2018-07-02","2018-09-04","2018-11-01","2019-01-02","2019-03-01","2019-05-01","2019-07-01","2019-09-03"],
    "labelExpr":"slice(datum.value,5,7)=='01' ? slice(datum.value,0,4) : slice(datum.value,5,7)=='03' ? 'Mar' : slice(datum.value,5,7)=='05' ? 'May' : slice(datum.value,5,7)=='07' ? 'Jul' : slice(datum.value,5,7)=='09' ? 'Sep' : 'Nov'",
    "labelAngle":0,"labelFontSize":13,"labelFont":"Liberation Sans",
    "labelColor":{"condition":{"test":"slice(datum.value,5,7)=='01'","value":"#4d4d4d"},"value":"#8e8e8e"},
    "labelPadding":3,"labelOverlap":false,"domain":false,"grid":false,"ticks":true,"tickSize":4,"tickColor":"#c9c9c9"}}}},
{"data":{"name":"bands"},"mark":{"type":"rect","fill":"#000","opacity":0.04},
 "encoding":{"x":{"field":"d","type":"ordinal","title":null},"x2":{"field":"e"}}},
{"data":{"values":[{}]},"mark":{"type":"rule","color":"#e3e3e3"},
 "encoding":{"y":{"datum":147.9,"type":"quantitative","scale":{"domain":[54.93,147.92],"nice":false,"zero":false},"axis":null}}},
{"data":{"name":"px"},
 "transform":[{"window":[{"op":"lag","field":"c","as":"pc"}],"sort":[{"field":"d","order":"ascending"}]}],
 "mark":{"type":"bar","width":{"band":0.6}},
 "encoding":{"x":{"field":"d","type":"ordinal","title":null},
  "y":{"field":"v","type":"quantitative","scale":{"domain":[0,18],"nice":false,"zero":true},"axis":null},
  "color":{"condition":{"test":"datum.pc == null || datum.c >= datum.pc","value":"#2fbf7c"},"value":"#ff5a60"}}},
{"data":{"name":"px"},"mark":{"type":"rule","color":"#3d3d3d","strokeWidth":1},
 "encoding":{
  "x":{"field":"d","type":"ordinal","title":null},
  "y":{"field":"l","type":"quantitative","scale":{"domain":[54.93,147.92],"nice":false,"zero":false},
   "axis":{"orient":"right","title":null,"values":[60,70,80,90,100,110,120,130,140],"format":".2f","grid":true,"gridColor":"#e8e8e8",
    "domain":true,"domainColor":"#c8c8c8","ticks":true,"tickSize":4,"tickColor":"#c8c8c8","labelPadding":4,"labelFontSize":12.5,"labelFont":"Liberation Sans","labelColor":"#3a3a3a"}},
  "y2":{"field":"h"}}},
{"data":{"name":"px"},"mark":{"type":"bar","width":{"band":0.85}},
 "encoding":{"x":{"field":"d","type":"ordinal","title":null},
  "y":{"field":"o","type":"quantitative","scale":{"domain":[54.93,147.92],"nice":false,"zero":false},"axis":null},
  "y2":{"field":"c"},
  "color":{"condition":{"test":"datum.c >= datum.o","value":"#12b36c"},"value":"#fd3340"}}},
{"data":{"name":"divs"},"mark":{"type":"point","shape":"M -0.78 -1 H 0.78 Q 1 -1 1 -0.78 V 0.78 Q 1 1 0.78 1 H -0.78 Q -1 1 -1 0.78 V -0.78 Q -1 -1 -0.78 -1 Z","size":324,"filled":true,"color":"#565b62","opacity":1},
 "encoding":{"x":{"field":"d","type":"ordinal","title":null},"y":{"datum":72.81,"type":"quantitative","scale":{"domain":[54.93,147.92],"nice":false,"zero":false},"axis":null}}},
{"data":{"name":"divs"},"mark":{"type":"text","text":"D","color":"#ffffff","fontSize":13,"fontWeight":"bold","align":"center","baseline":"middle","dy":1},
 "encoding":{"x":{"field":"d","type":"ordinal","title":null},"y":{"datum":72.81,"type":"quantitative","scale":{"domain":[54.93,147.92],"nice":false,"zero":false},"axis":null}}},
{"data":{"values":[{"d":"2018-02-15"}]},"mark":{"type":"point","shape":"circle","size":200,"filled":false,"stroke":"#e8132c","strokeWidth":2.5,"opacity":1},
 "encoding":{"x":{"field":"d","type":"ordinal","title":null},"y":{"datum":134.8,"type":"quantitative","scale":{"domain":[54.93,147.92],"nice":false,"zero":false},"axis":null}}},
{"data":{"values":[{"d":"2018-02-27"}]},"mark":{"type":"text","text":"$134.80","color":"#e8132c","fontSize":17,"fontWeight":"bold","align":"left","baseline":"middle","dy":1},
 "encoding":{"x":{"field":"d","type":"ordinal","title":null},"y":{"datum":134.8,"type":"quantitative","scale":{"domain":[54.93,147.92],"nice":false,"zero":false},"axis":null}}},
{"data":{"values":[{"d":"2017-12-08"}]},"mark":{"type":"point","shape":"M -3.16 -1 H 3.16 Q 3.4 -1 3.4 -0.76 V 0.76 Q 3.4 1 3.16 1 H -3.16 Q -3.4 1 -3.4 0.76 V -0.76 Q -3.4 -1 -3.16 -1 Z","size":625,"filled":true,"fill":"#ffffff","stroke":"#e4e4e4","strokeWidth":1,"opacity":1},
 "encoding":{"x":{"field":"d","type":"ordinal","title":null},"y":{"datum":141.92,"type":"quantitative","scale":{"domain":[54.93,147.92],"nice":false,"zero":false},"axis":null}}},
{"data":{"values":[{"d":"2017-11-10"}]},"mark":{"type":"point","shape":"M 0.304 -1 V 1 H 0.144 Q -0.096 1 -0.096 0.76 V -0.76 Q -0.096 -1 0.144 -1 Z","size":625,"filled":true,"color":"#1e6fe6","opacity":1},
 "encoding":{"x":{"field":"d","type":"ordinal","title":null},"y":{"datum":141.92,"type":"quantitative","scale":{"domain":[54.93,147.92],"nice":false,"zero":false},"axis":null}}},
{"data":{"values":[{"d":"2017-11-16"}]},"mark":{"type":"text","text":"LOGM 73.54","color":"#4f565d","fontSize":12.5,"align":"left","baseline":"middle","dy":1},
 "encoding":{"x":{"field":"d","type":"ordinal","title":null},"y":{"datum":141.92,"type":"quantitative","scale":{"domain":[54.93,147.92],"nice":false,"zero":false},"axis":null}}},
{"data":{"values":[{"d":"2018-10-11"}]},"mark":{"type":"point","shape":"M -2.58 -1 H 2.58 Q 2.92 -1 2.92 -0.67 V 0.67 Q 2.92 1 2.58 1 H -2.58 Q -2.92 1 -2.92 0.67 V -0.67 Q -2.92 -1 -2.58 -1 Z","size":576,"filled":true,"fill":"#ffffff","stroke":"#ebebeb","strokeWidth":1,"opacity":1},
 "encoding":{"x":{"field":"d","type":"ordinal","title":null},"y":{"datum":65.91,"type":"quantitative","scale":{"domain":[54.93,147.92],"nice":false,"zero":false},"axis":null}}},
{"data":{"values":[{"d":"2018-09-28","t":"—"},{"d":"2018-10-23","t":"+"}]},"mark":{"type":"text","color":"#6a6a6a","fontSize":20,"align":"center","baseline":"middle","dy":0},
 "encoding":{"text":{"field":"t"},"x":{"field":"d","type":"ordinal","title":null},"y":{"datum":65.91,"type":"quantitative","scale":{"domain":[54.93,147.92],"nice":false,"zero":false},"axis":null}}},
{"data":{"values":[{"d":"2018-10-11"}]},"mark":{"type":"text","text":"|","color":"#d3d3d3","fontSize":17,"align":"center","baseline":"middle"},
 "encoding":{"x":{"field":"d","type":"ordinal","title":null},"y":{"datum":65.91,"type":"quantitative","scale":{"domain":[54.93,147.92],"nice":false,"zero":false},"axis":null}}},
{"data":{"values":[{"d":"2019-08-05"}]},"mark":{"type":"text","text":"YAHOO!","color":"#e2e2e2","fontSize":20,"align":"center","baseline":"middle"},
 "encoding":{"x":{"field":"d","type":"ordinal","title":null},"y":{"datum":143.4,"type":"quantitative","scale":{"domain":[54.93,147.92],"nice":false,"zero":false},"axis":null}}},
{"data":{"values":[{"d":"2019-08-06"}]},"mark":{"type":"text","text":"FINANCE","color":"#e4e4e4","fontSize":11,"fontWeight":"bold","align":"center","baseline":"middle"},
 "encoding":{"x":{"field":"d","type":"ordinal","title":null},"y":{"datum":138.9,"type":"quantitative","scale":{"domain":[54.93,147.92],"nice":false,"zero":false},"axis":null}}},
{"data":{"values":[{"d":"2019-09-06"}]},"mark":{"type":"point","shape":"M 0.3 -1 H 3.9 Q 4.1 -1 4.1 -0.8 V 0.8 Q 4.1 1 3.9 1 H 0.3 Q 0.1 1 0.1 0.8 V -0.8 Q 0.1 -1 0.3 -1 Z","size":400,"filled":true,"color":"#fd2f37","opacity":1},
 "encoding":{"x":{"field":"d","type":"ordinal","title":null},"y":{"datum":71.97,"type":"quantitative","scale":{"domain":[54.93,147.92],"nice":false,"zero":false},"axis":null}}},
{"data":{"values":[{"d":"2019-09-06"}]},"mark":{"type":"text","text":"71.97","color":"#ffffff","fontSize":13,"fontWeight":"bold","align":"center","baseline":"middle","dx":21,"dy":1},
 "encoding":{"x":{"field":"d","type":"ordinal","title":null},"y":{"datum":71.97,"type":"quantitative","scale":{"domain":[54.93,147.92],"nice":false,"zero":false},"axis":null}}},
{"data":{"values":[{"d":"2019-09-06"}]},"mark":{"type":"point","shape":"M 0.4 -1 H 5.385 Q 5.685 -1 5.685 -0.7 V 0.7 Q 5.685 1 5.385 1 H 0.4 Q 0.105 1 0.105 0.7 V -0.7 Q 0.105 -1 0.4 -1 Z","size":361,"filled":true,"color":"#b9bdc2","opacity":1},
 "encoding":{"x":{"field":"d","type":"ordinal","title":null},"y":{"datum":57.6,"type":"quantitative","scale":{"domain":[54.93,147.92],"nice":false,"zero":false},"axis":null}}},
{"data":{"values":[{"d":"2019-09-06"}]},"mark":{"type":"text","text":"239.44k","color":"#2e2e2e","fontSize":13,"align":"center","baseline":"middle","dx":27.5,"dy":1},
 "encoding":{"x":{"field":"d","type":"ordinal","title":null},"y":{"datum":57.6,"type":"quantitative","scale":{"domain":[54.93,147.92],"nice":false,"zero":false},"axis":null}}}
],
"resolve":{"scale":{"y":"independent"}}
}
